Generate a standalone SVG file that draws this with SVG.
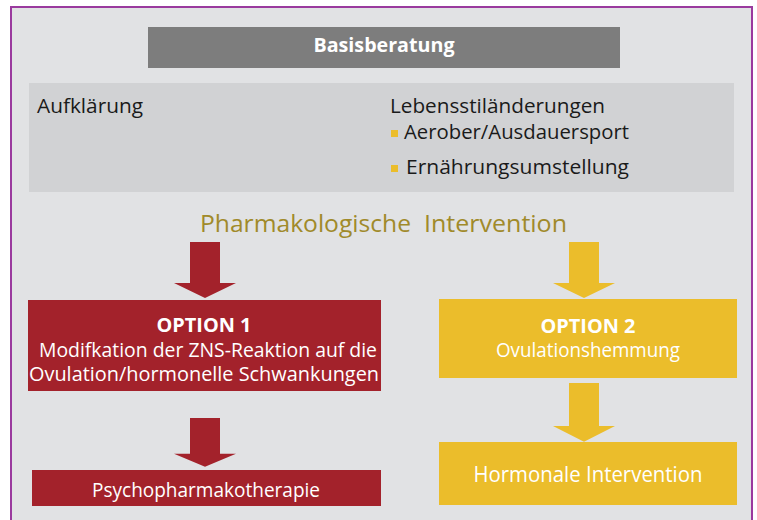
<svg xmlns="http://www.w3.org/2000/svg" width="757" height="520" viewBox="0 0 757 520">
  <style>
    text { font-family: "Open Sans", "Liberation Sans", sans-serif; }
    .w { fill: #ffffff; }
    .b { font-weight: bold; }
    .k { fill: #1a1a1a; }
    .red { fill: #a3222b; }
    .yel { fill: #ebbd2b; }
  </style>
  <defs>
    <path id="arrowShape" d="M -15 0 H 15 V 41 H 31 L 0 56 L -31 41 H -15 Z"/>
  </defs>
  <rect x="0" y="0" width="757" height="520" fill="#ffffff"/>
  <rect x="11" y="7" width="741" height="520" fill="#e1e2e4" stroke="#9a3a9e" stroke-width="2"/>

  <g id="basisberatung">
    <rect x="148" y="27" width="472" height="41" fill="#7d7d7d"/>
    <text class="w b" x="384" y="52" font-size="20" text-anchor="middle" textLength="141" lengthAdjust="spacingAndGlyphs">Basisberatung</text>
  </g>

  <g id="beratung-inhalte">
    <rect x="29" y="83" width="705" height="109" fill="#d1d2d4"/>
    <text class="k" x="37" y="113" font-size="20.5" textLength="106" lengthAdjust="spacingAndGlyphs">Aufklärung</text>
    <text class="k" x="390" y="113" font-size="20.5" textLength="215" lengthAdjust="spacingAndGlyphs">Lebensstiländerungen</text>
    <rect class="yel" x="391" y="130" width="7" height="7"/>
    <text class="k" x="404" y="139" font-size="20.5" textLength="225" lengthAdjust="spacingAndGlyphs">Aerober/Ausdauersport</text>
    <rect class="yel" x="391" y="165" width="7" height="7"/>
    <text class="k" x="406" y="174" font-size="20.5" textLength="223" lengthAdjust="spacingAndGlyphs">Ernährungsumstellung</text>
  </g>

  <g id="pharmakologische-intervention">
    <text x="200" y="232" font-size="24" fill="#a08a2a"><tspan textLength="211" lengthAdjust="spacingAndGlyphs">Pharmakologische</tspan><tspan x="424" textLength="143" lengthAdjust="spacingAndGlyphs">Intervention</tspan></text>
  </g>

  <g id="connectors">
    <use href="#arrowShape" class="red" transform="translate(205,242)"/>
    <use href="#arrowShape" class="yel" transform="translate(584,242)"/>
    <use href="#arrowShape" class="red" transform="translate(205,418) scale(1,0.87)"/>
    <use href="#arrowShape" class="yel" transform="translate(584,383) scale(1,1.05)"/>
  </g>

  <g id="option1">
    <rect class="red" x="28" y="300" width="353" height="91"/>
    <text class="w b" x="204" y="332" font-size="20" text-anchor="middle" textLength="95" lengthAdjust="spacingAndGlyphs">OPTION 1</text>
    <text class="w" x="208" y="357" font-size="20.5" text-anchor="middle" textLength="338" lengthAdjust="spacingAndGlyphs">Modifkation der ZNS-Reaktion auf die</text>
    <text class="w" x="204" y="381" font-size="20.5" text-anchor="middle" textLength="350" lengthAdjust="spacingAndGlyphs">Ovulation/hormonelle Schwankungen</text>
  </g>

  <g id="psychopharmakotherapie">
    <rect class="red" x="32" y="470" width="349" height="36"/>
    <text class="w" x="206" y="497" font-size="20.5" text-anchor="middle" textLength="228" lengthAdjust="spacingAndGlyphs">Psychopharmakotherapie</text>
  </g>

  <g id="option2">
    <rect class="yel" x="439" y="299" width="298" height="79"/>
    <text class="w b" x="588" y="333" font-size="20" text-anchor="middle" textLength="95" lengthAdjust="spacingAndGlyphs">OPTION 2</text>
    <text class="w" x="588" y="357" font-size="20.5" text-anchor="middle" textLength="184" lengthAdjust="spacingAndGlyphs">Ovulationshemmung</text>
  </g>

  <g id="hormonale-intervention">
    <rect class="yel" x="439" y="442" width="298" height="63"/>
    <text class="w" x="588" y="482" font-size="22" text-anchor="middle" textLength="229" lengthAdjust="spacingAndGlyphs">Hormonale Intervention</text>
  </g>
</svg>
